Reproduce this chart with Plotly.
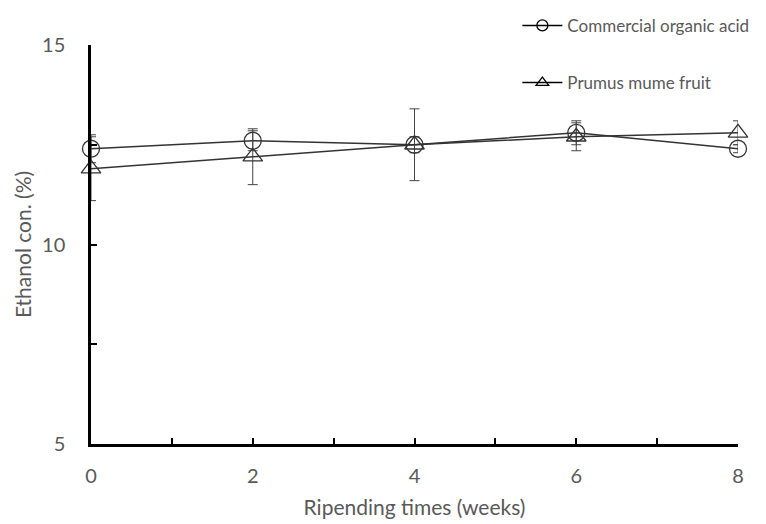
import plotly.graph_objects as go

weeks = [0, 2, 4, 6, 8]
commercial = [12.4, 12.6, 12.5, 12.8, 12.4]
commercial_err = [0.35, 0.25, 0.2, 0.3, 0.1]
prumus = [11.9, 12.2, 12.5, 12.7, 12.8]
prumus_err = [0.8, 0.7, 0.9, 0.35, 0.3]

x_tickvals = [0, 1, 2, 3, 4, 5, 6, 7, 8]
x_ticktext = ["0", "", "2", "", "4", "", "6", "", "8"]
y_tickvals = [5, 7.5, 10, 12.5, 15]
y_ticktext = ["5", "", "10", "", "15"]

FONT = "Lato, 'Open Sans', sans-serif"
GREY = "#595959"
LINE = "#333333"

fig = go.Figure()
fig.add_trace(go.Scatter(
    x=weeks, y=commercial, name="Commercial organic acid", showlegend=False,
    mode="lines+markers", cliponaxis=False,
    line=dict(color=LINE, width=1.5),
    marker=dict(symbol="circle-open", size=17, color=LINE, line=dict(width=1.3)),
    error_y=dict(type="data", array=commercial_err, color="#444444", thickness=1, width=5),
))
fig.add_trace(go.Scatter(
    x=weeks, y=prumus, name="Prumus mume fruit", showlegend=False,
    mode="lines+markers", cliponaxis=False,
    line=dict(color=LINE, width=1.5),
    marker=dict(symbol="triangle-up-open", size=17, color=LINE, line=dict(width=1.3)),
    error_y=dict(type="data", array=prumus_err, color="#444444", thickness=1, width=5),
))
# legend entries (smaller symbols, like the original legend)
fig.add_trace(go.Scatter(
    x=[None], y=[None], name="Commercial organic acid", legendgroup="a",
    mode="lines+markers", line=dict(color="black", width=1.5),
    marker=dict(symbol="circle-open", size=11, color="black", line=dict(width=1.3)),
))
fig.add_trace(go.Scatter(
    x=[None], y=[None], name="Prumus mume fruit", legendgroup="b",
    mode="lines+markers", line=dict(color="black", width=1.5),
    marker=dict(symbol="triangle-up-open", size=11, color="black", line=dict(width=1.3)),
))

fig.update_layout(
    width=766, height=524,
    margin=dict(l=83, r=36, t=37, b=88, autoexpand=False),
    paper_bgcolor="white", plot_bgcolor="white",
    font=dict(family=FONT, color=GREY),
    legend=dict(x=0.659, y=1.093, xanchor="left", yanchor="top",
                traceorder="grouped", tracegroupgap=32,
                font=dict(size=17, color=GREY), bgcolor="rgba(0,0,0,0)",
                itemwidth=40),
    xaxis=dict(range=[0, 8], tickvals=x_tickvals, ticktext=x_ticktext,
               ticks="inside", ticklen=6, tickcolor="black", tickwidth=2,
               showline=True, linecolor="black", linewidth=2.5,
               showgrid=False, zeroline=False, automargin=False,
               ticklabelstandoff=12,
               tickfont=dict(size=20, color=GREY),
               title=dict(text="Ripending times (weeks)", font=dict(size=21, color=GREY), standoff=15)),
    yaxis=dict(range=[5, 15], tickvals=y_tickvals, ticktext=y_ticktext,
               ticks="inside", ticklen=6, tickcolor="black", tickwidth=2,
               showline=True, linecolor="black", linewidth=2.5,
               showgrid=False, zeroline=False, automargin=False,
               ticklabelstandoff=19,
               tickfont=dict(size=20, color=GREY),
               title=dict(text="Ethanol con. (%)", font=dict(size=21, color=GREY), standoff=5)),
    showlegend=True,
)

fig.write_html("out.html")
